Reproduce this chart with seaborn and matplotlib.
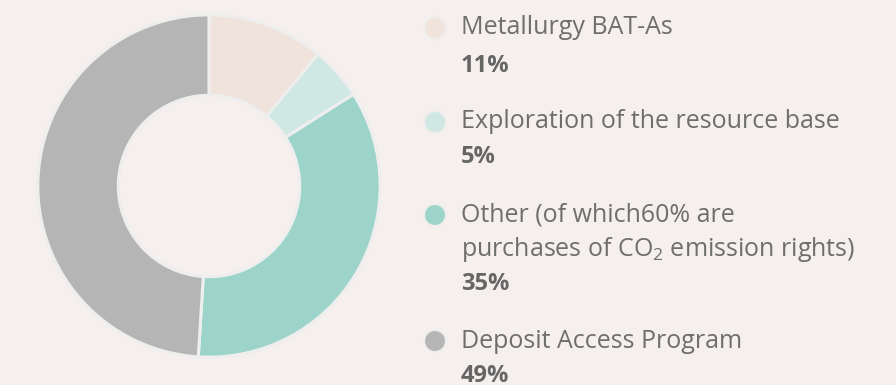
import matplotlib
matplotlib.use("Agg")
import matplotlib.pyplot as plt
import seaborn as sns

# Investment structure by direction
categories = [
    "Metallurgy BAT-As",
    "Exploration of the resource base",
    "Other (of which60% are\npurchases of CO$_{\\mathregular{2}}$ emission rights)",
    "Deposit Access Program",
]
shares = [11, 5, 35, 49]
colors = ["#efe3db", "#cfe8e3", "#9dd4ca", "#b5b5b5"]

bg = "#f5f0ed"
text_color = "#6e6e6e"
pct_color = "#666666"

sns.set_theme(style="white")
plt.rcParams["font.family"] = ["Open Sans", "DejaVu Sans"]
plt.rcParams["mathtext.fontset"] = "custom"
plt.rcParams["mathtext.rm"] = "Open Sans"

W, H = 896, 385
fig = plt.figure(figsize=(W / 100, H / 100), dpi=100, facecolor=bg)

# Donut chart
cx, cy, r = 209, 186, 172
ax = fig.add_axes([(cx - r) / W, (H - cy - r) / H, 2 * r / W, 2 * r / H])
ax.set_facecolor(bg)
ax.pie(
    shares,
    colors=colors,
    startangle=90,
    counterclock=False,
    radius=1.0,
    wedgeprops=dict(width=0.47, edgecolor="#eeeeee", linewidth=2.2),
)
ax.set_xlim(-1.005, 1.005)
ax.set_ylim(-1.005, 1.005)
ax.set_aspect("equal")
ax.axis("off")

# Legend with markers, labels and shares
def fx(px):
    return px / W

def fy(py):
    return 1 - py / H

marker_y = [28, 122, 215, 341]
pct_y = [66, 157, 284, 376]
line_gap = 35

for cat, share, col, my, py in zip(categories, shares, colors, marker_y, pct_y):
    fig.patches.append(
        matplotlib.patches.Ellipse(
            (fx(435), fy(my)), 22 / W, 22 / H,
            transform=fig.transFigure, facecolor=col,
            edgecolor="#efeeed", linewidth=1.5,
        )
    )
    for i, line in enumerate(cat.split("\n")):
        fig.text(fx(461), fy(my + i * line_gap), line, fontsize=18,
                 color=text_color, va="center", ha="left")
    fig.text(fx(461), fy(py), f"{share}%", fontsize=17, fontweight="bold",
             color=pct_color, va="center", ha="left")

fig.savefig("out.png", dpi=100, facecolor=bg)
